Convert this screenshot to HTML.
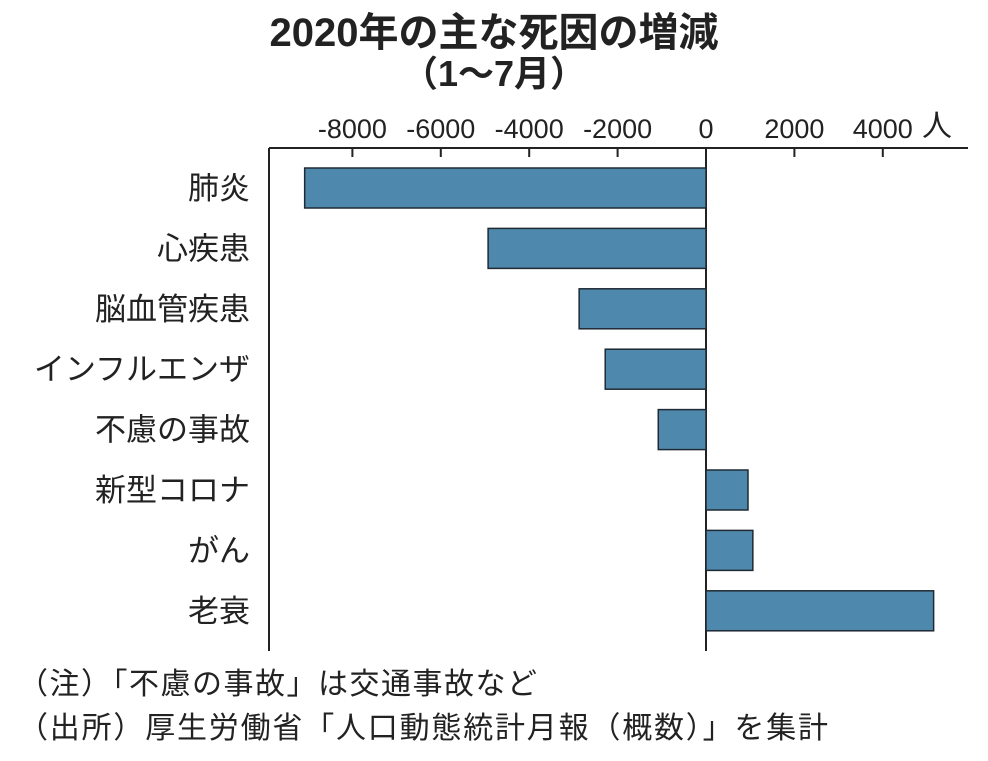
<!DOCTYPE html>
<html><head><meta charset="utf-8"><style>
html,body{margin:0;padding:0;background:#fff;}
body{width:988px;height:756px;overflow:hidden;font-family:"Liberation Sans","Noto Sans CJK JP",sans-serif;}
</style></head><body>
<svg id="chart" width="988" height="756" xmlns="http://www.w3.org/2000/svg" font-family="'Liberation Sans','Noto Sans CJK JP',sans-serif">
<text x="494" y="46" text-anchor="middle" font-size="40" font-weight="bold" fill="#222">2020年の主な死因の増減</text>
<text x="494" y="86" text-anchor="middle" font-size="36" font-weight="bold" fill="#222">（1～7月）</text>
<g id="axes"></g>
<g id="bars"></g>
<text x="18" y="694" font-size="30" letter-spacing="1.5" fill="#222">（注）「不慮の事故」は交通事故など</text>
<text x="18" y="738" font-size="30" letter-spacing="1.8" fill="#222">（出所）厚生労働省「人口動態統計月報（概数）」を集計</text>
</svg>
<script>
const categories = ["肺炎","心疾患","脳血管疾患","インフルエンザ","不慮の事故","新型コロナ","がん","老衰"];
const values = [-9080,-4930,-2870,-2280,-1080,950,1060,5150];
const ticks = [-8000,-6000,-4000,-2000,0,2000,4000];
const tickLabels = ["-8000","-6000","-4000","-2000","0","2000","4000"];
const NS="http://www.w3.org/2000/svg";
const x0=706, pxPer=44.2/1000;
function xs(v){return x0+v*pxPer;}
function ys(i){return 188+i*60.4;}
function mk(tag,attrs,parent){const e=document.createElementNS(NS,tag);for(const k in attrs)e.setAttribute(k,attrs[k]);parent.appendChild(e);return e;}
const axes=document.getElementById('axes'), bars=document.getElementById('bars');
let l=mk('line',{x1:269,y1:148,x2:968,y2:148,stroke:'#222','stroke-width':2},axes);


l=mk('line',{x1:269,y1:148,x2:269,y2:651,stroke:'#222','stroke-width':2},axes);


ticks.forEach((t,i)=>{
  const tk=mk('line',{x1:xs(t),y1:148,x2:xs(t),y2:157,stroke:'#222','stroke-width':2},axes);
  
  
  const tx=mk('text',{x:xs(t),y:138,'text-anchor':'middle','font-size':27,fill:'#222'},axes);
  tx.textContent=tickLabels[i];
  
  
});
const unit=mk('text',{x:922,y:136,'font-size':30,fill:'#222'},axes);
unit.textContent='人';


categories.forEach((c,i)=>{
  const v=values[i];
  const r=mk('rect',{x:Math.min(xs(0),xs(v)),y:ys(i)-20,width:Math.abs(xs(v)-xs(0)),height:40,fill:'#4f88ad',stroke:'#1f2a33','stroke-width':1.5},bars);
  
  
  const t=mk('text',{x:250,y:ys(i)+11,'text-anchor':'end','font-size':31,fill:'#222'},bars);
  t.textContent=c;
  
  
});
l=mk('line',{x1:x0,y1:148,x2:x0,y2:651,stroke:'#222','stroke-width':2},axes);


</script>
</body></html>
